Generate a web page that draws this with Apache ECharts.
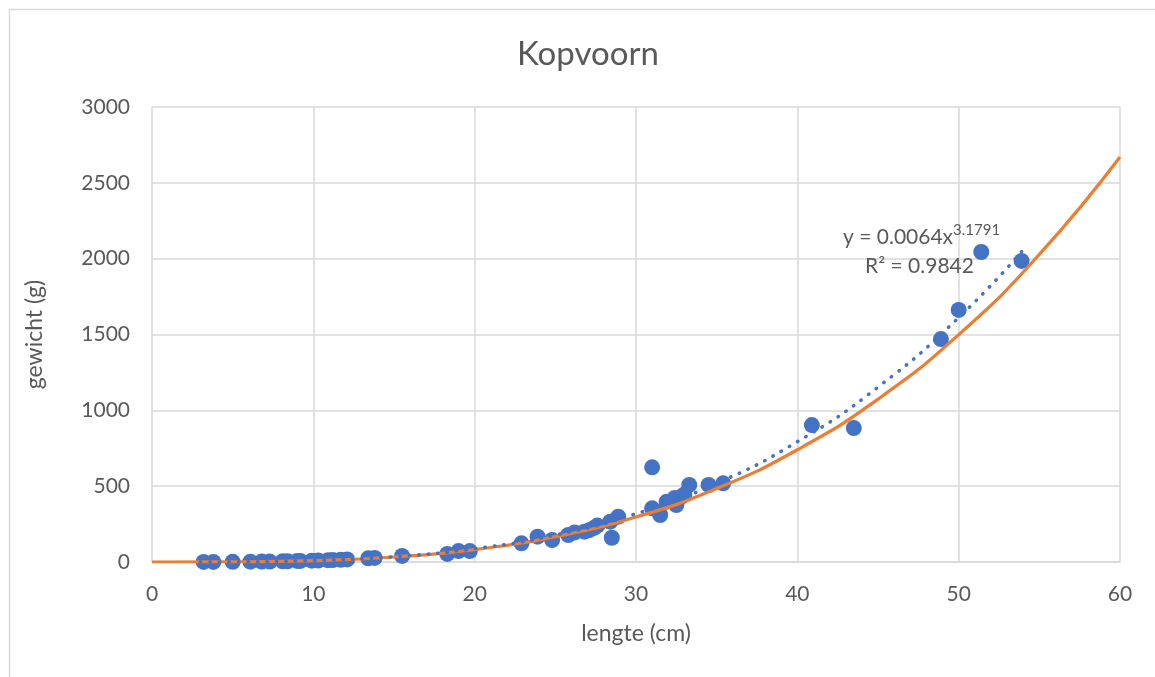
<!DOCTYPE html>
<html>
<head>
<meta charset="utf-8">
<script src="https://cdn.jsdelivr.net/npm/echarts@6/dist/echarts.min.js"></script>
<style>
html,body{margin:0;padding:0;background:#fff;}
#c{width:1155px;height:677px;}
</style>
</head>
<body>
<div id="c"></div>
<script>
// Measured fish: length (cm) and weight (g)
const lengthCm = [3.2,3.8,5.0,6.1,6.8,7.3,8.1,8.4,9.0,9.2,9.9,10.3,10.9,11.2,11.7,12.1,13.4,13.8,15.5,18.3,19.0,19.7,
  22.9,23.9,24.8,25.8,26.2,26.8,27.1,27.4,27.6,28.4,28.5,28.9,31.0,31.0,31.5,31.9,32.4,32.5,32.8,33.0,33.3,34.5,35.4,
  40.9,43.5,48.9,50.0,51.4,53.9];
const weightG = [0.3,0.5,1,2,3,3,5,5,7,7,9,10,12,13,15,17,24,27,40,53,72,72,
  123,167,145,178,195,200,210,225,240,266,160,299,624,354,310,398,422,376,430,445,508,508,519,
  903,883,1470,1662,2044,1985];

// Power trendline (dotted)
const trendX = [3,5,10,15,20,25,30,35,40,45,50,54];
const trendY = [0.2,1.1,9.7,35,88,178,318,519,793,1153,1611,2058];

// Orange reference curve
const refX = [0,5,10,15,20,25,30,35,40,45,50,55,60];
const refY = [0,1,9,33,82,167,297,484,740,1074,1499,2028,2670];

const xTicks = {min:0,max:60,interval:10};
const yTicks = {min:0,max:3000,interval:500};

const pts = lengthCm.map((x,i)=>[x,weightG[i]]);
const trend = trendX.map((x,i)=>[x,trendY[i]]);
const ref = refX.map((x,i)=>[x,refY[i]]);

const FONT = 'Lato';
const GREY = '#595959';
const chart = echarts.init(document.getElementById('c'));
chart.setOption({
  animation:false,
  backgroundColor:'#fff',
  title:{text:'Kopvoorn',left:512,top:33,textStyle:{fontFamily:FONT,fontSize:33,fontWeight:'normal',color:GREY}},
  grid:{left:152,right:35,top:107,bottom:115,containLabel:false},
  xAxis:{type:'value',min:xTicks.min,max:xTicks.max,interval:xTicks.interval,
    name:'lengte (cm)',nameLocation:'middle',nameGap:60,
    nameTextStyle:{fontFamily:FONT,fontSize:23,color:GREY},
    axisLine:{show:true,lineStyle:{color:'#d9d9d9',width:1.5}},axisTick:{show:false},
    axisLabel:{fontFamily:FONT,fontSize:21,color:GREY,margin:22,formatter:v=>String(v)},
    splitLine:{show:true,lineStyle:{color:'#d9d9d9',width:1.5}}},
  yAxis:{type:'value',min:yTicks.min,max:yTicks.max,interval:yTicks.interval,
    name:'gewicht (g)',nameLocation:'middle',nameGap:106,nameRotate:90,
    nameTextStyle:{fontFamily:FONT,fontSize:23,color:GREY},
    axisLine:{show:false},axisTick:{show:false},
    axisLabel:{fontFamily:FONT,fontSize:21,color:GREY,margin:22,formatter:v=>String(v)},
    splitLine:{show:true,lineStyle:{color:'#d9d9d9',width:1.5}}},
  graphic:[
    {type:'rect',left:7,top:7,shape:{width:1200,height:720},style:{fill:'none',stroke:'#d9d9d9',lineWidth:1.5},z:-10},
    {type:'text',left:843,top:223,z:100,style:{
      text:'{a|y = 0.0064x}{b|3.1791}',
      rich:{a:{fontFamily:FONT,fontSize:21,fill:GREY,verticalAlign:'bottom'},
            b:{fontFamily:FONT,fontSize:15,fill:GREY,verticalAlign:'bottom',padding:[0,0,10,0]}}}},
    {type:'text',left:865,top:256,z:100,style:{text:'R² = 0.9842',fontFamily:FONT,fontSize:21,fill:GREY}}
  ],
  series:[
    {type:'scatter',data:pts,symbol:'circle',symbolSize:16,itemStyle:{color:'#4472C4',opacity:1},z:2},
    {type:'line',data:ref,smooth:true,showSymbol:false,symbol:'none',lineStyle:{color:'#ED7D31',width:3.2},z:3},
    {type:'line',data:trend,smooth:true,showSymbol:false,symbol:'none',
      lineStyle:{color:'#4472C4',width:3.5,type:[0.5,9],cap:'round'},z:4}
  ]
});
</script>
</body>
</html>
